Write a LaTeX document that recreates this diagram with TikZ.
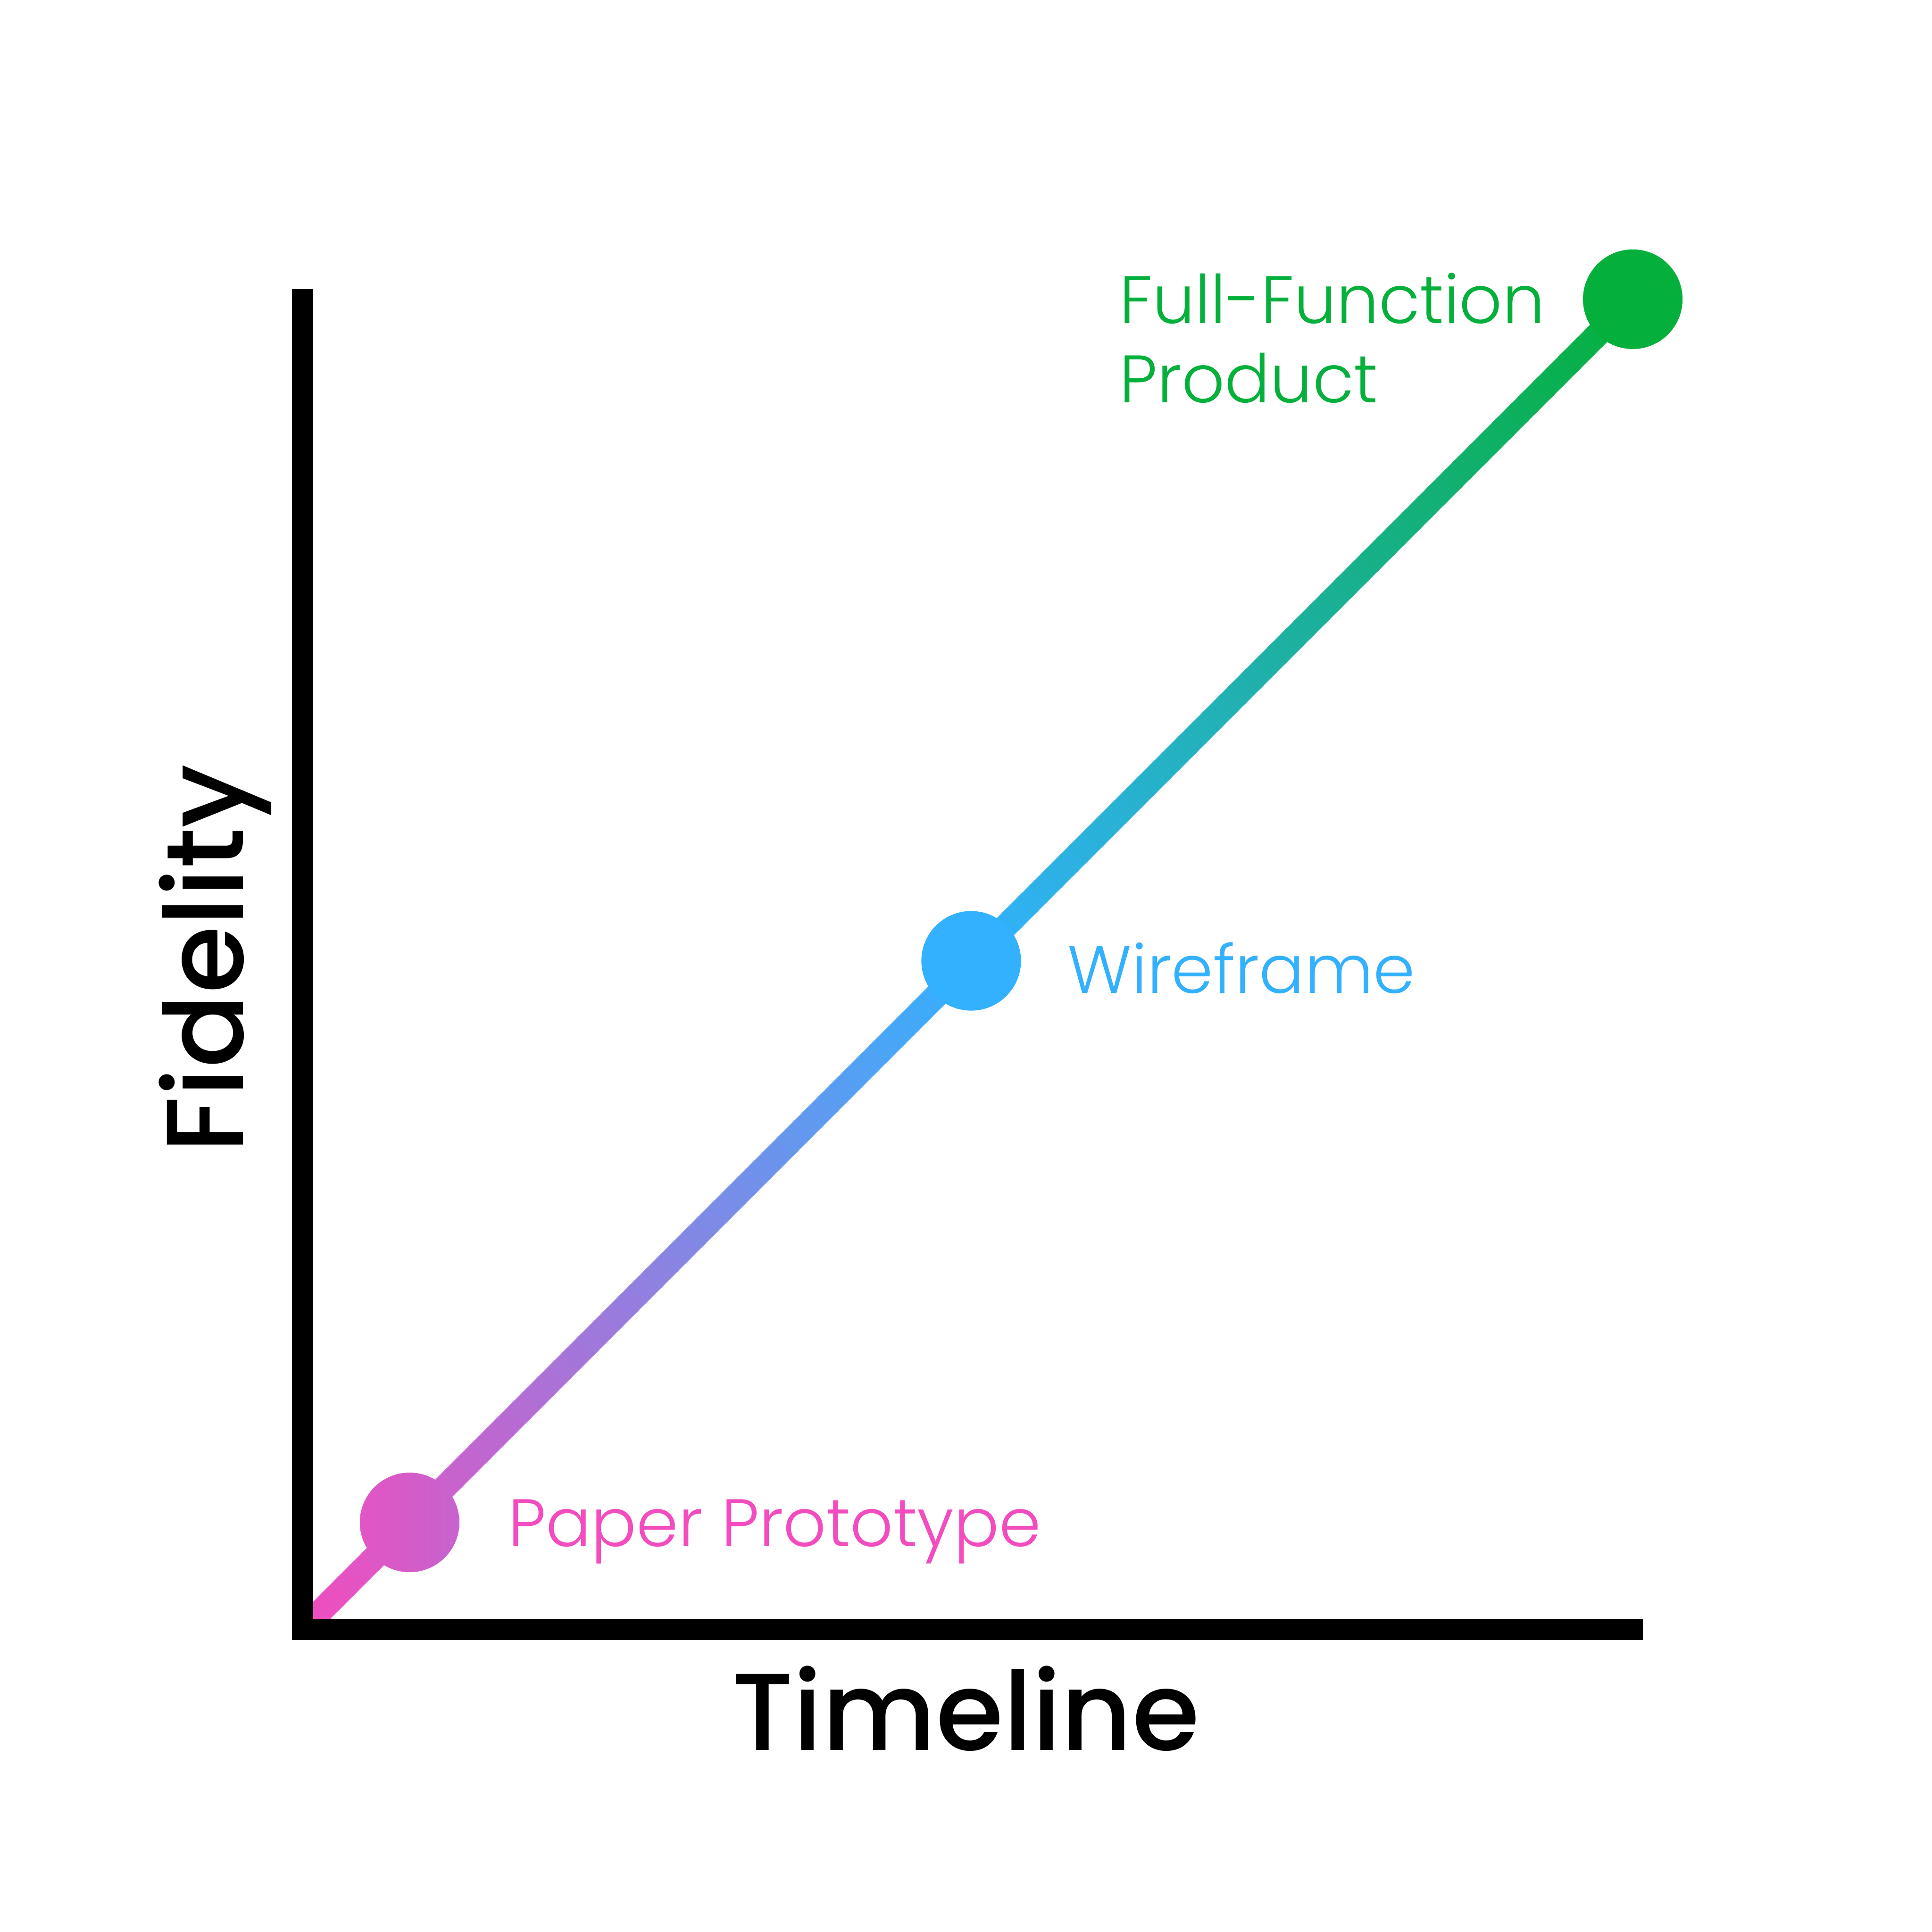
\documentclass[tikz,border=0pt]{standalone}
\usepackage{fontspec}
\IfFontExistsTF{Poppins Light}{\newfontfamily\lblfont{Poppins Light}}{\newfontfamily\lblfont{Poppins}}
\IfFontExistsTF{Poppins Medium}{\newfontfamily\axfont{Poppins Medium}}{\newfontfamily\axfont{Poppins}}
\usetikzlibrary{positioning,calc}

\definecolor{pinkc}{HTML}{F24CBE}
\definecolor{bluec}{HTML}{33B1FF}
\definecolor{greenc}{HTML}{04B03B}

\begin{document}
\begin{tikzpicture}[
    dot/.style={circle, minimum size=2.32cm, inner sep=0pt},
    lbl/.style={anchor=base west, inner sep=0pt, font=\lblfont\fontsize{44.5}{52.6}\selectfont, align=left},
    axlbl/.style={anchor=base, inner sep=0pt, font=\axfont\fontsize{72.5}{86}\selectfont},
    axis/.style={line width=0.5cm, line join=miter}
]
    \useasboundingbox (0,0) rectangle (45,45);

    % corner of the axes and the three stages
    \coordinate (o) at (7.05,7.05);
    \coordinate (wc) at (22.62,22.62);
    \coordinate (fc) at (38.03,38.03);

    % gradient line, pink -> blue -> green
    \foreach \i in {0,...,49} {
        \pgfmathsetmacro\ta{\i/50}
        \pgfmathsetmacro\tb{min((\i+1)/50+0.01,1)}
        \pgfmathsetmacro\p{2*\i+1}
        \draw [line width=0.56cm, bluec!\p!pinkc] ($(o)!\ta!(wc)$) -- ($(o)!\tb!(wc)$);
        \draw [line width=0.56cm, greenc!\p!bluec] ($(wc)!\ta!(fc)$) -- ($(wc)!\tb!(fc)$);
    }

    \node [dot, left color=bluec!8.5!pinkc, right color=bluec!23!pinkc] (paper) at (9.54,9.54) {};
    \node [dot, fill=bluec] (wire) at (wc) {};
    \node [dot, fill=greenc] (full) at (fc) {};

    \node [lbl, text=pinkc] (paperlbl) at (11.83,8.98) {Paper Prototype};
    \node [lbl, text=bluec] (wirelbl) at (24.86,21.87) {Wireframe};
    \node [lbl, text=greenc] (fulllbl) at (26.07,35.62) {Full-Function\\Product};

    % axes
    \draw [axis] (7.05,38.26) -- (o) -- (38.26,7.05);
    \node [axlbl] (xlbl) at (22.49,4.23) {Timeline};
    \node [axlbl, rotate=90] (ylbl) at (5.66,22.67) {Fidelity};
\end{tikzpicture}
\end{document}
